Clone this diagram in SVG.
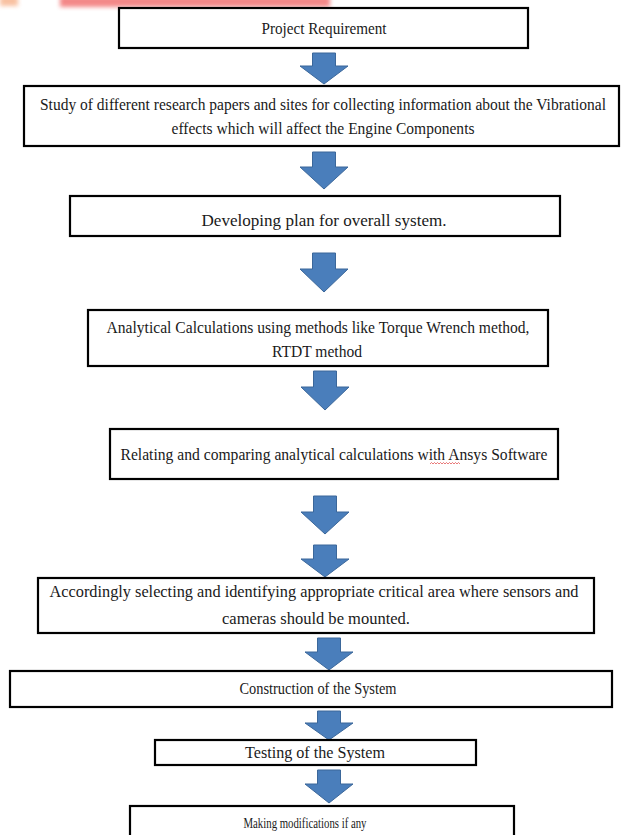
<svg xmlns="http://www.w3.org/2000/svg" width="621" height="835" viewBox="0 0 621 835">
<defs>
<style>
.box{fill:#ffffff;stroke:#000000;stroke-width:2.2}
.t{font-family:"Liberation Serif","Times New Roman",serif;font-size:17px;fill:#1a1a1a;text-anchor:middle}
.ts{font-family:"Liberation Serif","Times New Roman",serif;font-size:14px;fill:#1a1a1a;text-anchor:middle}
.arr{fill:#4a7ebb;stroke:#3b679a;stroke-width:1}
</style>
<filter id="blur" x="-20%" y="-100%" width="140%" height="300%"><feGaussianBlur stdDeviation="2"/></filter>
</defs>
<rect width="621" height="835" fill="#ffffff"/>
<g id="watermark" filter="url(#blur)" opacity="0.65">
<rect x="0" y="-4" width="18" height="10" fill="#f5a070"/>
<rect x="60" y="-4" width="270" height="11" fill="#ee4a4a"/>
</g>
<g id="connectors">
<path class="arr" d="M312.5,53 H335.5 V66 H348 L324,84 L300,66 H312.5 Z"/>
<path class="arr" d="M312.5,152 H335.5 V167 H348 L324,189 L300,167 H312.5 Z"/>
<path class="arr" d="M312.5,253 H335.5 V269 H348 L324,292 L300,269 H312.5 Z"/>
<path class="arr" d="M313.5,371 H336.5 V387 H349 L325,410 L301,387 H313.5 Z"/>
<path class="arr" d="M313.5,496 H336.5 V512 H349 L325,534 L301,512 H313.5 Z"/>
<path class="arr" d="M313.5,545 H336.5 V559 H349 L325,577 L301,559 H313.5 Z"/>
<path class="arr" d="M317.5,638 H340.5 V652 H353 L329,670 L305,652 H317.5 Z"/>
<path class="arr" d="M317.5,711 H340.5 V723 H353 L329,740 L305,723 H317.5 Z"/>
<path class="arr" d="M317.5,770 H340.5 V784 H353 L329,803 L305,784 H317.5 Z"/>
</g>
<g id="n1"><rect class="box" x="119" y="8" width="409" height="40"/><text class="t" x="324" y="34" textLength="125" lengthAdjust="spacingAndGlyphs">Project Requirement</text></g>
<g id="n2"><rect class="box" x="24" y="86" width="595" height="60"/><text class="t" transform="translate(323,110) scale(0.85,1)" x="0" y="0" textLength="666" lengthAdjust="spacingAndGlyphs">Study of different research papers and sites for collecting information about the Vibrational</text><text class="t" x="323" y="134" textLength="303" lengthAdjust="spacingAndGlyphs">effects which will affect the Engine Components</text></g>
<g id="n3"><rect class="box" x="70" y="196" width="490" height="40"/><text class="t" x="324" y="226" textLength="245" lengthAdjust="spacingAndGlyphs">Developing plan for overall system.</text></g>
<g id="n4"><rect class="box" x="88" y="310" width="460" height="56"/><text class="t" x="318" y="333" textLength="423" lengthAdjust="spacingAndGlyphs">Analytical Calculations using methods like Torque Wrench method,</text><text class="t" x="317" y="357" textLength="90" lengthAdjust="spacingAndGlyphs">RTDT method</text></g>
<g id="n5"><rect class="box" x="110" y="429" width="448" height="50"/><text class="t" x="334" y="460" textLength="427" lengthAdjust="spacingAndGlyphs">Relating and comparing analytical calculations with Ansys Software</text><path d="M430,464 l1.5,-1.5 l1.5,1.5 l1.5,-1.5 l1.5,1.5 l1.5,-1.5 l1.5,1.5 l1.5,-1.5 l1.5,1.5 l1.5,-1.5 l1.5,1.5 l1.5,-1.5 l1.5,1.5 l1.5,-1.5 l1.5,1.5 l1.5,-1.5 l1.5,1.5 l1.5,-1.5 l1.5,1.5 l1.5,-1.5 l1.5,1.5" fill="none" stroke="#e04040" stroke-width="0.7"/></g>
<g id="n6"><rect class="box" x="38" y="578" width="556" height="55"/><text class="t" x="314" y="597" textLength="529" lengthAdjust="spacingAndGlyphs">Accordingly selecting and identifying appropriate critical area where sensors and</text><text class="t" x="316" y="624" textLength="188" lengthAdjust="spacingAndGlyphs">cameras should be mounted.</text></g>
<g id="n7"><rect class="box" x="10" y="671" width="602" height="36"/><text class="t" x="318" y="694" textLength="157" lengthAdjust="spacingAndGlyphs">Construction of the System</text></g>
<g id="n8"><rect class="box" x="155" y="740" width="321" height="25"/><text class="t" x="315" y="758" textLength="140" lengthAdjust="spacingAndGlyphs">Testing of the System</text></g>
<g id="n9"><rect class="box" x="130" y="806" width="384" height="40"/><text class="ts" x="305" y="828" textLength="123" lengthAdjust="spacingAndGlyphs">Making modifications if any</text></g>
</svg>
